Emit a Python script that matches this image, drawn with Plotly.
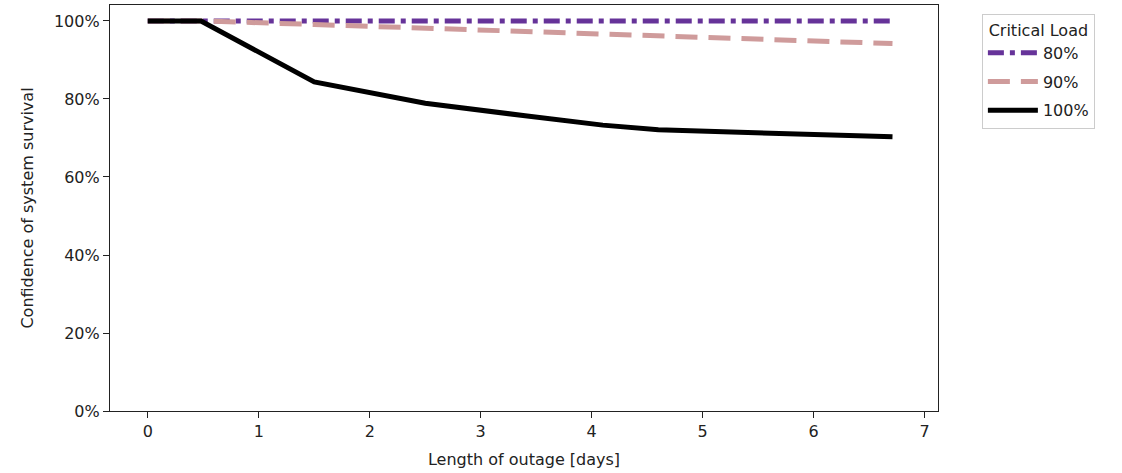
"""Outage survival confidence chart."""

import plotly.graph_objects as go

# length of outage in days
days_80 = [0, 0.5, 1, 2, 3, 4, 5, 6, 6.71]
days_90 = [0, 0.5, 1.5, 2.5, 3.35, 4.1, 5.15, 6, 6.71]
days_100 = [0, 0.48, 1.5, 2.5, 3.4, 4.1, 4.6, 5.2, 6, 6.71]

# confidence of survival, percent
surv_80 = [100, 100, 100, 100, 100, 100, 100, 100, 100]
surv_90 = [100, 100, 99.1, 98.2, 97.5, 96.7, 95.6, 94.9, 94.2]
surv_100 = [100, 100, 84.4, 78.9, 75.7, 73.3, 72.1, 71.5, 70.9, 70.3]

x_ticks = [0, 1, 2, 3, 4, 5, 6, 7]
y_ticks = [0, 20, 40, 60, 80, 100]
y_labels = ["0%", "20%", "40%", "60%", "80%", "100%"]

FONT = "DejaVu Sans"

fig = go.Figure()
fig.add_trace(go.Scatter(
    x=days_80, y=surv_80, name="80%", mode="lines", legendgroup="a",
    line=dict(color="#663399", width=5, dash="16px,6px,5px,6px"),
))
fig.add_trace(go.Scatter(
    x=days_90, y=surv_90, name="90%", mode="lines", legendgroup="b",
    line=dict(color="#cf9b9b", width=5, dash="22px,11px"),
))
fig.add_trace(go.Scatter(
    x=days_100, y=surv_100, name="100%", mode="lines", legendgroup="c",
    line=dict(color="black", width=5),
))

axis_style = dict(
    showline=True, linecolor="#222", linewidth=1.2, mirror=True,
    ticks="outside", ticklen=6, tickcolor="#222", tickwidth=1.2,
    showgrid=False, zeroline=False,
    tickfont=dict(family=FONT, size=16, color="#222"),
)

fig.update_layout(
    width=1122, height=473,
    margin=dict(l=110, r=184, t=5, b=62),
    paper_bgcolor="white", plot_bgcolor="white",
    font=dict(family=FONT, size=16, color="#222"),
    xaxis=dict(
        range=[-0.34, 7.12], tickvals=x_ticks,
        title=dict(text="Length of outage [days]", font=dict(family=FONT, size=16), standoff=13),
        **axis_style,
    ),
    yaxis=dict(
        range=[0, 104.1], tickvals=y_ticks, ticktext=y_labels,
        title=dict(text="Confidence of system survival", font=dict(family=FONT, size=16), standoff=16),
        **axis_style,
    ),
    legend=dict(
        title=dict(text="Critical Load", font=dict(family=FONT, size=16), side="top center"),
        x=1.053, y=0.978, xanchor="left", yanchor="top",
        bordercolor="#cccccc", borderwidth=1, bgcolor="white",
        font=dict(family=FONT, size=16), tracegroupgap=5,
        itemwidth=50,
    ),
)

# drop the page's default body margin so the figure sits at the top-left
fig.write_html(
    "out.html",
    config={"displayModeBar": False},
    post_script="document.body.style.margin='0';",
)
